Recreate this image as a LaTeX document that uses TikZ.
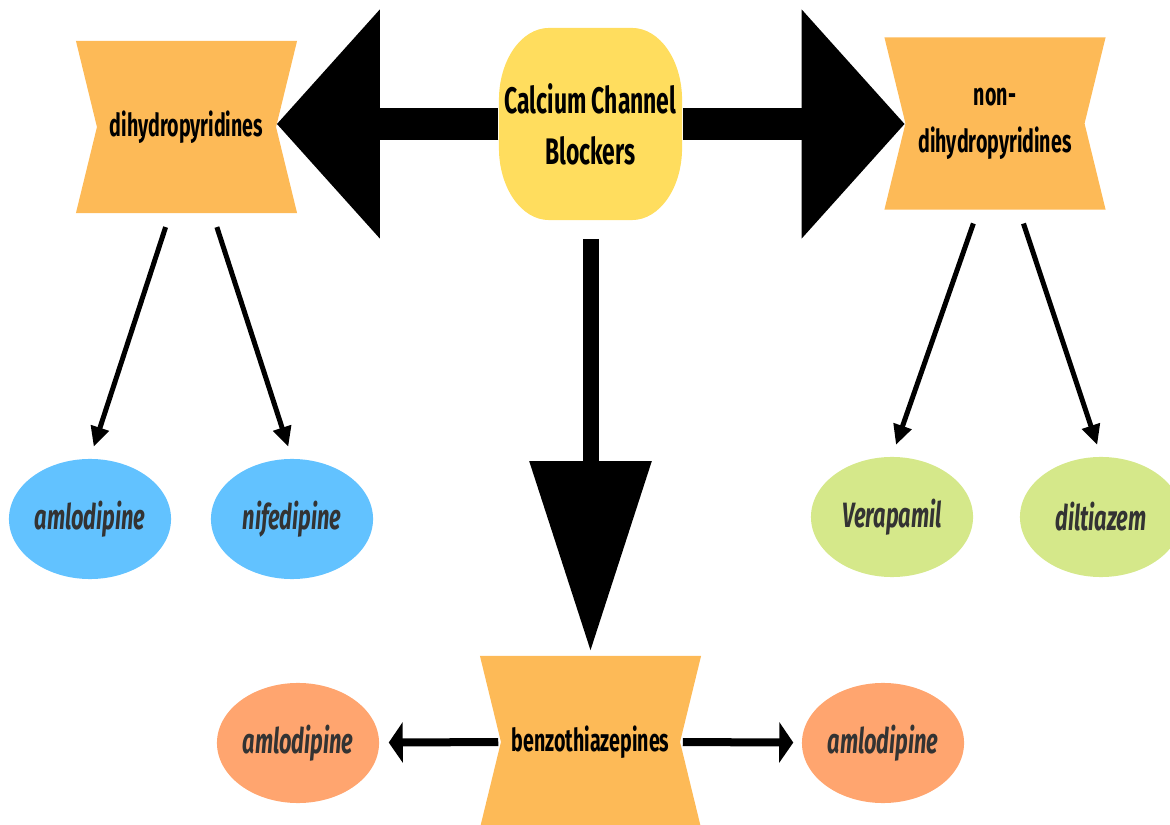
\documentclass[tikz,border=0pt]{standalone}
\usepackage{fontspec}
\setmainfont{Fira Sans}
\newfontfamily\narrowfont{Fira Sans}[FakeStretch=0.62]
\usetikzlibrary{arrows.meta,shapes.geometric}
\definecolor{hubyellow}{HTML}{FFDD5E}
\definecolor{classorange}{HTML}{FDBA57}
\definecolor{dhpblue}{HTML}{62C2FF}
\definecolor{ndhpgreen}{HTML}{D5E88A}
\definecolor{btzsalmon}{HTML}{FFA56F}
\definecolor{drugtext}{HTML}{333333}
\tikzset{
  hub/.style={rectangle, minimum width=1.83cm, minimum height=1.92cm, inner sep=0pt, align=center, font=\narrowfont\bfseries\fontsize{10.5}{14.5}\selectfont,
    path picture={\fill[hubyellow] ([xshift=0.5cm]path picture bounding box.north west) -- ([xshift=-0.5cm]path picture bounding box.north east)
      arc[start angle=90, end angle=0, x radius=0.5cm, y radius=0.72cm] -- ([yshift=0.72cm]path picture bounding box.south east)
      arc[start angle=0, end angle=-90, x radius=0.5cm, y radius=0.72cm] -- ([xshift=0.5cm]path picture bounding box.south west)
      arc[start angle=270, end angle=180, x radius=0.5cm, y radius=0.72cm] -- ([yshift=-0.72cm]path picture bounding box.north west)
      arc[start angle=180, end angle=90, x radius=0.5cm, y radius=0.72cm] -- cycle;}},
  classbox/.style={rectangle, minimum width=2.21cm, minimum height=1.72cm, inner sep=0pt, align=center, font=\narrowfont\bfseries\fontsize{9}{13.4}\selectfont,
    path picture={\fill[classorange] (path picture bounding box.north west) -- (path picture bounding box.north east) -- ([xshift=-0.21cm]path picture bounding box.east) -- (path picture bounding box.south east) -- (path picture bounding box.south west) -- ([xshift=0.21cm]path picture bounding box.west) -- cycle;}},
  drug/.style={ellipse, minimum width=1.62cm, minimum height=1.2cm, inner xsep=-0.2cm, inner ysep=0pt, text=drugtext, font=\narrowfont\bfseries\itshape\fontsize{10}{12}\selectfont},
}
\begin{document}
\begin{tikzpicture}[x=0.01cm, y=-0.01cm,
  bigarrow/.style={draw=black, line width=0.31cm, -{Triangle[length=1.03cm, width=2.23cm]}},
  downarrow/.style={draw=black, line width=0.16cm, -{Triangle[length=1.9cm, width=1.18cm]}, shorten <=0.18cm, shorten >=0.04cm},
  thinarrow/.style={draw=black, line width=0.05cm, -{Triangle[length=0.2cm, width=0.18cm]}, shorten <=0.14cm, shorten >=0.12cm},
  smallarrow/.style={draw=black, line width=0.08cm, -{Triangle[length=0.14cm, width=0.4cm]}}]
\useasboundingbox (0,0) rectangle (1170,825);
% class boxes
\node[hub] (ccb) at (590.5,124) {Calcium Channel\\Blockers};
\node[classbox] (dhp) at (186.5,127) {dihydropyridines};
\node[classbox] (ndhp) at (995,123.5) {non-\\dihydropyridines};
\node[classbox] (btz) at (590.5,742) {benzothiazepines};
\coordinate (dhpR) at ([xshift=-0.21cm]dhp.east);
\coordinate (ndhpL) at ([xshift=0.21cm]ndhp.west);
\coordinate (btzL) at ([xshift=0.21cm]btz.west);
\coordinate (btzR) at ([xshift=-0.21cm]btz.east);
% drugs
\node[drug, fill=dhpblue] (amlo1) at (90,519) {amlodipine};
\node[drug, fill=dhpblue] (nif) at (292,519) {nifedipine};
\node[drug, fill=ndhpgreen] (vera) at (892,517) {Verapamil};
\node[drug, fill=ndhpgreen] (dilt) at (1101,517) {diltiazem};
\node[drug, fill=btzsalmon] (amlo2) at (298,743) {amlodipine};
\node[drug, fill=btzsalmon] (amlo3) at (883,743) {amlodipine};
% arrows
\path (ccb.west) edge[bigarrow] (dhpR |- ccb.west);
\path (ccb.east) edge[bigarrow] (ndhpL |- ccb.east);
\path (ccb.south) edge[downarrow] (btz.north);
\path ([xshift=-0.165cm]dhp.south) edge[thinarrow] (amlo1.north);
\path ([xshift=0.26cm]dhp.south) edge[thinarrow] (nif.north);
\path ([xshift=-0.17cm]ndhp.south) edge[thinarrow] (vera.north);
\path ([xshift=0.24cm]ndhp.south) edge[thinarrow] (dilt.north);
\path (btzL) edge[smallarrow, shorten <=0.02cm, shorten >=0.09cm] (amlo2);
\path (btzR) edge[smallarrow, shorten <=0.02cm, shorten >=0.08cm] (amlo3);
\end{tikzpicture}
\end{document}
